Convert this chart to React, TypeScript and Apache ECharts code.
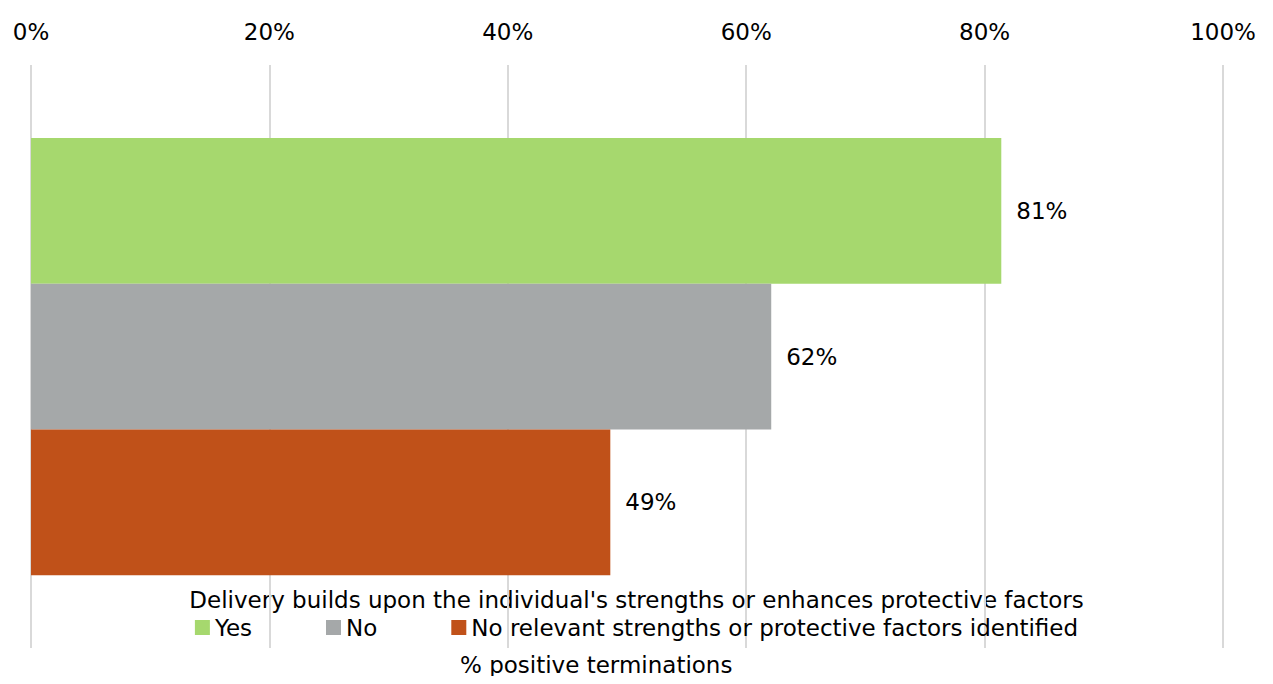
import React, { useEffect, useRef } from "react";
import * as echarts from "echarts";

const categories = ["Delivery builds upon the individual's strengths or enhances protective factors"];
const seriesNames = ["Yes", "No", "No relevant strengths or protective factors identified"];
const seriesValues = [81.4, 62.1, 48.6];
const seriesColors = ["#a6d86e", "#a5a8a9", "#c05119"];
const xTicks = [0, 20, 40, 60, 80, 100];
const axisTitle = "% positive terminations";
const legendTitle = categories[0];

const FONT = "DejaVu Sans";
const FS = 23;

export default function App() {
  const ref = useRef<HTMLDivElement>(null);
  useEffect(() => {
    const chart = echarts.init(ref.current!, undefined, { renderer: "svg" });
    chart.setOption({
      animation: false,
      textStyle: { fontFamily: FONT },
      grid: { left: 31, right: 50, top: 65, bottom: 36, containLabel: false },
      xAxis: {
        type: "value",
        position: "top",
        min: 0,
        max: 100,
        interval: 20,
        axisLine: { show: false },
        axisTick: { show: false },
        axisLabel: {
          margin: 22,
          fontSize: FS,
          color: "#000",
          fontFamily: FONT,
          formatter: (v: number) => (xTicks.includes(v) ? v + "%" : ""),
        },
        splitLine: { lineStyle: { color: "#d9d9d9", width: 2 } },
      },
      yAxis: {
        type: "category",
        data: categories,
        inverse: true,
        show: false,
      },
      legend: {
        top: 611,
        left: "center",
        itemWidth: 15,
        itemHeight: 15,
        itemGap: 74,
        icon: "rect",
        textStyle: { fontSize: FS, color: "#000", fontFamily: FONT },
        data: seriesNames,
      },
      graphic: [
        {
          type: "text",
          left: "center",
          top: 588,
          style: { text: legendTitle, fontSize: FS, fill: "#000", fontFamily: FONT },
        },
        {
          type: "text",
          left: 460,
          top: 653,
          style: { text: axisTitle, fontSize: FS, fill: "#000", fontFamily: FONT },
        },
      ],
      series: seriesNames.map((name, i) => ({
        name,
        type: "bar",
        data: [seriesValues[i]],
        barGap: "0%",
        barCategoryGap: "25%",
        itemStyle: { color: seriesColors[i] },
        label: {
          show: true,
          position: "right",
          distance: 15,
          fontSize: FS,
          color: "#000",
          fontFamily: FONT,
          formatter: (p: any) => Math.round(p.value) + "%",
        },
      })),
    });
    return () => chart.dispose();
  }, []);
  return <div ref={ref} style={{ width: 1273, height: 684, margin: -8 }} />;
}
